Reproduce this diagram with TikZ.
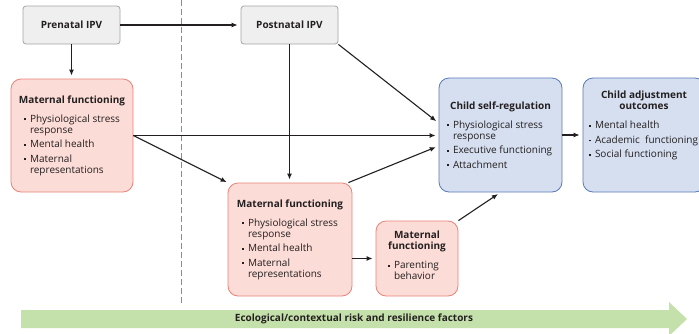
\documentclass[tikz,border=0pt]{standalone}
\usepackage{fontspec}
\setmainfont{Open Sans}
\usetikzlibrary{arrows.meta}

\definecolor{ink}{HTML}{231F20}
\definecolor{ipvfill}{HTML}{EFEFEF}
\definecolor{ipvline}{HTML}{A3A3A3}
\definecolor{momfill}{HTML}{FCDCD6}
\definecolor{momline}{HTML}{E8837A}
\definecolor{kidfill}{HTML}{D5DFF0}
\definecolor{kidline}{HTML}{5B7AB8}
\definecolor{ctxgreen}{HTML}{C5E1AB}
\definecolor{dashgrey}{HTML}{8C8C8C}

% box contents: centred bold title, then bullet list
\newcommand{\boxtext}[2]{\parbox{#1}{\raggedright\fontsize{10}{11}\selectfont #2}}
\newcommand{\boxtitle}[1]{\makebox[\linewidth]{\bfseries\begin{tabular}{@{}c@{}}#1\end{tabular}}\par\vspace{4pt}}
\newcommand{\bitem}[1]{\par\vspace{3.5pt}\hangindent=6pt\hangafter=1\noindent\makebox[6pt][l]{\rule[1.9pt]{1.9pt}{1.9pt}}#1\par}

\begin{document}
\begin{tikzpicture}[x=1pt, y=-1pt, line width=1.1pt, color=ink,
    every node/.style={text=ink, font=\fontsize{10}{11}\selectfont},
    ipvbox/.style={draw=ipvline, fill=ipvfill, line width=0.8pt, rounded corners=3pt,
        minimum width=97pt, minimum height=38pt, font=\fontsize{10}{11}\selectfont\bfseries},
    mombox/.style={draw=momline, fill=momfill, line width=0.8pt, rounded corners=10pt, inner sep=0pt},
    kidbox/.style={draw=kidline, fill=kidfill, line width=0.8pt, rounded corners=10pt, inner sep=0pt},
    link/.style={-{Latex[length=6pt,width=5pt]}, shorten >=3pt}]
    \useasboundingbox (0,0) rectangle (699,333);
    \clip (0,0) rectangle (699,333);

    % prenatal / postnatal divide
    \draw [dashgrey, line width=0.8pt, dash pattern=on 6pt off 3pt] (181,0) -- (181,305);

    \node [ipvbox] (PrenatalIPV) at (71.5,25) {Prenatal IPV};
    \node [ipvbox] (PostnatalIPV) at (289.5,25) {Postnatal IPV};

    \node [mombox, minimum width=122pt, minimum height=113pt] (MatFuncPre) at (72,135.5)
        {\boxtext{96pt}{\boxtitle{Maternal functioning}\bitem{Physiological stress response}\bitem{Mental health}\bitem{Maternal representations}}};
    \node [mombox, minimum width=124pt, minimum height=113pt] (MatFuncPost) at (290,239.5)
        {\boxtext{96pt}{\boxtitle{Maternal functioning}\bitem{Physiological stress response}\bitem{Mental health}\bitem{Maternal representations}}};
    \node [mombox, minimum width=82pt, minimum height=75pt] (Parenting) at (417,258.5)
        {\boxtext{58pt}{\boxtitle{Maternal\\functioning}\bitem{Parenting behavior}\vspace{6pt}}};

    \node [kidbox, minimum width=123pt, minimum height=114pt] (SelfReg) at (500.5,135)
        {\boxtext{107pt}{\boxtitle{Child self-regulation}\bitem{Physiological stress response}\bitem{Executive functioning}\bitem{Attachment}}};
    \node [kidbox, minimum width=122pt, minimum height=114pt] (Outcomes) at (644,135)
        {\boxtext{110pt}{\boxtitle{Child adjustment\\outcomes}\bitem{Mental health}\bitem{\mbox{Academic~ functioning}}\bitem{Social functioning}\vspace{19pt}}};

    \path [link] (PrenatalIPV) edge (PostnatalIPV);
    \path [link] (PrenatalIPV.south) edge (PrenatalIPV.south |- MatFuncPre.north);
    \path [link] (PostnatalIPV.south) edge (PostnatalIPV.south |- MatFuncPost.north);
    \path [link] (PostnatalIPV.south east) edge ([yshift=12pt]SelfReg.west);
    \path [link] (MatFuncPre.east) edge (MatFuncPre.east -| SelfReg.west);
    \path [link, shorten >=1pt] (MatFuncPre.east) edge (MatFuncPost.north west);
    \path [link] ([xshift=-4pt]MatFuncPost.north east) edge ([yshift=-11pt]SelfReg.west);
    \path [link] (MatFuncPost.east |- Parenting.west) edge (Parenting.west);
    \path [link] (Parenting.north east) edge (SelfReg.south);
    \path [link] (SelfReg) edge (Outcomes);

    % contextual factors band
    \fill [ctxgreen] (21,310) -- (669,310) -- (669,302) -- (687,319) -- (669,336) -- (669,328) -- (21,328) -- cycle;
    \node [font=\fontsize{10}{11}\selectfont\bfseries] (Context) at (354,319) {Ecological/contextual risk and resilience factors};
\end{tikzpicture}
\end{document}
